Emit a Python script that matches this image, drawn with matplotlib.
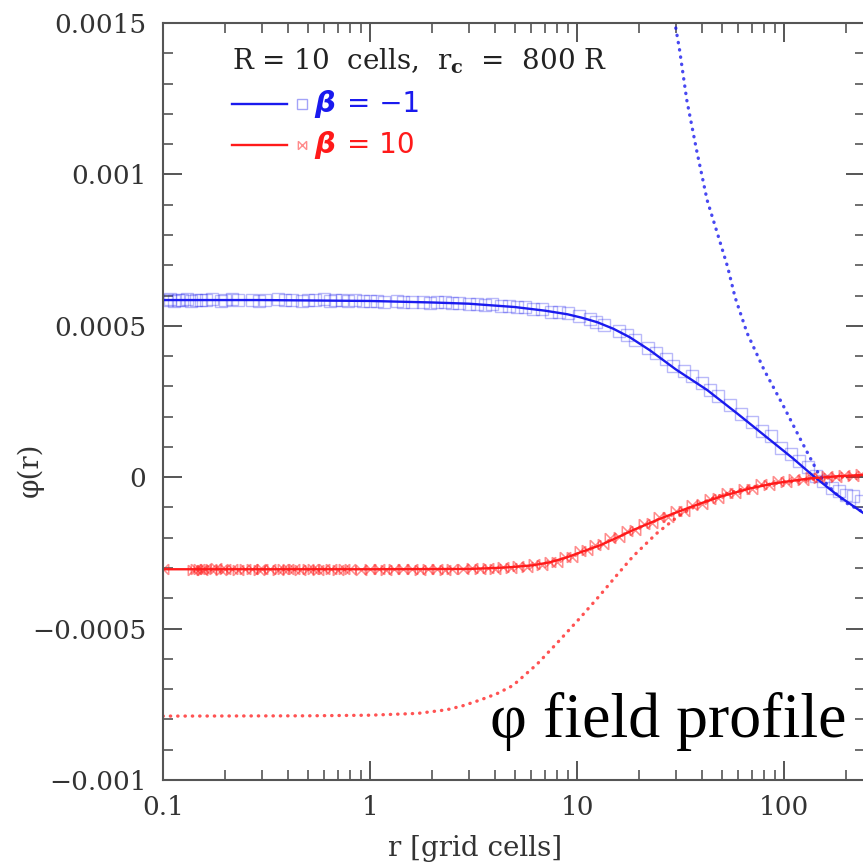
import matplotlib
matplotlib.use("Agg")
import matplotlib.pyplot as plt
import numpy as np
from matplotlib.path import Path
from matplotlib.ticker import FixedLocator, FuncFormatter, LogLocator, NullFormatter

# solid fits
r_blue_fit = [0.1, 0.3, 1, 2, 3, 5, 7, 9, 10.5, 12.5, 15, 18, 22.5, 30, 42.5, 60, 88.5, 110, 138, 180, 241, 250]
phi_blue_fit = [0.000585, 0.000585, 0.000582, 0.000577, 0.000573, 0.000562, 0.00055, 0.000538, 0.000527,
                0.000512, 0.00049, 0.000462, 0.000419, 0.000356, 0.000288, 0.000208, 0.000115, 0.000063,
                0.000005, -0.000058, -0.000118, -0.000124]
r_red_fit = [0.1, 1, 3, 4, 4.8, 6.1, 7.4, 8.9, 10.3, 12.9, 15, 18.6, 25, 30, 39.3, 50, 68.6, 90, 133, 180, 250]
phi_red_fit = [-0.000304, -0.000304, -0.000303, -0.000300, -0.000297, -0.000291, -0.000281, -0.000265,
               -0.000249, -0.000225, -0.000205, -0.000175, -0.000138, -0.000117, -0.000087, -0.000063,
               -0.000037, -0.000020, -0.000004, 0.000003, 0.000008]

# dotted approximations
r_blue_dot = [28, 29.7, 31.3, 33.9, 37.8, 42.5, 47.6, 53.4, 58, 66.3, 80, 100, 120, 138, 150, 175, 201, 230, 250]
phi_blue_dot = [0.00162, 0.0015, 0.00141, 0.001245, 0.00108, 0.000915, 0.000806, 0.000694, 0.000594, 0.000476,
                0.000355, 0.000231, 0.000125, 0.000046, 0.0, -0.00005, -0.000086, -0.000108, -0.00012]
r_red_dot = [0.1, 0.5, 1, 1.7, 2.35, 2.8, 3.4, 4.1, 4.9, 6.4, 8.0, 10.3, 12.9, 15.5, 18.6, 24.2, 31.3, 40, 50, 70,
             100, 150, 250]
phi_red_dot = [-0.000789, -0.000788, -0.000786, -0.00078, -0.000768, -0.000755, -0.000736, -0.000715, -0.000688,
               -0.000618, -0.000548, -0.000466, -0.00039, -0.000325, -0.000262, -0.000186, -0.000125, -0.000085,
               -0.000058, -0.000032, -0.000016, -0.000004, 0.000006]

# simulation points
r_blue_pts = [0.104, 0.108, 0.113, 0.118, 0.124, 0.13, 0.137, 0.145, 0.153, 0.162, 0.172, 0.19, 0.2, 0.215, 0.23,
              0.27, 0.29, 0.31, 0.36, 0.39, 0.42, 0.47, 0.5, 0.54, 0.6, 0.64, 0.68, 0.73, 0.78, 0.85, 0.92, 1.0,
              1.08, 1.17, 1.35, 1.45, 1.6, 1.8, 1.95, 2.1, 2.3, 2.5, 2.7, 3.0, 3.3, 3.6, 3.9, 4.3, 4.7, 5.1, 5.6,
              6.1, 6.8, 7.5, 8.2, 9.0, 10.2, 11.5, 12.3, 13.5, 16.0, 17.5, 19.0, 22, 24, 27, 29, 33, 36, 40, 44,
              48, 55, 62, 70, 78, 86, 97, 108, 118, 130, 142, 155, 170, 185, 200, 215, 235]
phi_blue_pts = [0.000585, 0.000587, 0.000583, 0.000586, 0.000584, 0.000587, 0.000583, 0.000585, 0.000586, 0.000584,
                0.000587, 0.000583, 0.000585, 0.000587, 0.000584, 0.000586, 0.000583, 0.000585, 0.000587, 0.000584,
                0.000585, 0.000583, 0.000586, 0.000585, 0.000587, 0.000583, 0.000585, 0.000584, 0.000582, 0.000584,
                0.000581, 0.000583, 0.000582, 0.000579, 0.000581, 0.00058, 0.000578, 0.000579, 0.000576, 0.000577,
                0.000578, 0.000574, 0.000575, 0.000571, 0.000573, 0.000569, 0.000571, 0.000566, 0.000567, 0.000561,
                0.000562, 0.000555, 0.000557, 0.000547, 0.000546, 0.000541, 0.000533, 0.000524, 0.000514, 0.000503,
                0.000482, 0.000469, 0.000452, 0.000428, 0.00041, 0.000389, 0.000367, 0.00035, 0.000334, 0.000312,
                0.000288, 0.000268, 0.000238, 0.000208, 0.000182, 0.000152, 0.000136, 0.000098, 0.000078, 0.000052,
                0.000034, 0.000004, -0.000012, -0.000035, -0.000045, -0.000058, -0.000062, -0.000078]
r_red_pts = [0.1, 0.14, 0.145, 0.15, 0.155, 0.16, 0.17, 0.18, 0.19, 0.2, 0.215, 0.23, 0.25, 0.27, 0.29, 0.3, 0.33,
             0.36, 0.38, 0.4, 0.43, 0.46, 0.5, 0.53, 0.56, 0.6, 0.65, 0.7, 0.75, 0.8, 0.9, 1.0, 1.1, 1.2, 1.3, 1.45,
             1.6, 1.75, 1.9, 2.1, 2.3, 2.5, 2.8, 3.1, 3.4, 3.7, 4.0, 4.4, 4.8, 5.2, 5.7, 6.2, 6.8, 7.4, 8.0, 8.7,
             9.5, 10.3, 11.2, 12.2, 13.3, 14.5, 16, 17.5, 19, 21, 23, 25, 27.5, 30, 33, 36, 40, 44, 48, 53, 58, 64,
             70, 77, 85, 93, 102, 112, 123, 135, 148, 162, 178, 195, 215, 235]
phi_red_pts = [-0.000304, -0.000305, -0.000302, -0.000304, -0.000306, -0.000303, -0.000304, -0.000301, -0.000305,
               -0.000304, -0.000302, -0.000306, -0.000304, -0.000303, -0.000305, -0.000302, -0.000304, -0.000306,
               -0.000303, -0.000304, -0.000302, -0.000305, -0.000304, -0.000303, -0.000306, -0.000304, -0.000302,
               -0.000305, -0.000303, -0.000304, -0.000306, -0.000302, -0.000304, -0.000305, -0.000303, -0.000304,
               -0.000302, -0.000305, -0.000303, -0.000304, -0.000306, -0.000302, -0.000304, -0.000301, -0.000303,
               -0.000300, -0.000302, -0.000298, -0.000299, -0.000294, -0.000296, -0.000287, -0.000291, -0.000279,
               -0.000280, -0.000262, -0.000264, -0.000243, -0.000242, -0.000224, -0.000222, -0.000202, -0.000199,
               -0.000178, -0.000176, -0.000155, -0.000152, -0.000133, -0.000131, -0.000113, -0.000111, -0.000092,
               -0.000089, -0.000071, -0.00007, -0.000053, -0.000052, -0.000038, -0.000038, -0.000024, -0.000025,
               -0.000013, -0.000015, -0.000005, -0.000008, 0.000001, -0.000003, 0.000005, 0.000001, 0.000007,
               0.000004, 0.000009]

bowtie = Path([(-1, -1), (1, 1), (-1, 1), (1, -1), (-1, -1), (-1, 1), (1, -1), (1, 1)],
              [Path.MOVETO, Path.LINETO, Path.MOVETO, Path.LINETO, Path.MOVETO, Path.LINETO, Path.MOVETO, Path.LINETO])

BLUE = "#1a1aee"
RED = "#ff1a1a"
GRAY = "#555555"
DOTS = (0, (0.1, 2.1))

plt.rcParams["font.family"] = "DejaVu Serif"
plt.rcParams["mathtext.fontset"] = "dejavuserif"

fig = plt.figure(figsize=(8.63, 8.64), dpi=100)
ax = fig.add_axes([163 / 863, 1 - 780 / 864, 702 / 863, 757 / 864])

ax.plot(r_blue_pts, phi_blue_pts, ls="none", marker="s", ms=8, mfc="none", mec=BLUE, mew=1.0, alpha=0.3)
ax.plot(r_red_pts, phi_red_pts, ls="none", marker=bowtie, ms=7.5, mfc="none", mec=RED, mew=1.1, alpha=0.5)
ax.plot(r_blue_fit, phi_blue_fit, color=BLUE, lw=1.7)
ax.plot(r_red_fit, phi_red_fit, color=RED, lw=1.7)
ax.plot(r_blue_dot, phi_blue_dot, color=BLUE, lw=2.4, ls=DOTS, dash_capstyle="round", alpha=0.8)
ax.plot(r_red_dot, phi_red_dot, color=RED, lw=2.4, ls=DOTS, dash_capstyle="round", alpha=0.75)

ax.set_xscale("log")
ax.set_xlim(0.1, 246)
ax.set_ylim(-0.001, 0.0015)

ax.yaxis.set_major_locator(FixedLocator([-0.001, -0.0005, 0, 0.0005, 0.001, 0.0015]))
ax.yaxis.set_minor_locator(FixedLocator(np.arange(-0.001, 0.00151, 0.0001)))
ax.yaxis.set_major_formatter(FuncFormatter(lambda v, p: ("%g" % v).replace("-", "\u2212")))
ax.xaxis.set_major_locator(FixedLocator([0.1, 1, 10, 100]))
ax.xaxis.set_minor_locator(LogLocator(base=10, subs=np.arange(2, 10)))
ax.xaxis.set_minor_formatter(NullFormatter())
ax.xaxis.set_major_formatter(FuncFormatter(lambda v, p: "%g" % v))

ax.tick_params(which="both", direction="in", top=True, right=True, colors=GRAY, labelcolor="#333333",
               labelsize=19)
ax.tick_params(which="major", length=14, width=1.4)
ax.tick_params(which="minor", length=7, width=1.2)
ax.tick_params(axis="y", pad=12)
ax.tick_params(axis="x", pad=11)
for s in ax.spines.values():
    s.set_color(GRAY)
    s.set_linewidth(1.5)

ax.set_xlabel("r [grid cells]", fontsize=20, color="#333333")
ax.xaxis.set_label_coords(0.444, -0.072)
ax.set_ylabel("\u03c6(r)", fontsize=20, color="#333333")
ax.yaxis.set_label_coords(-0.17, 0.41)

# key
ax.text(0.099, 0.95, "R = 10  cells,  r$_{\\bf c}$  =  800 R", transform=ax.transAxes, fontsize=20,
        color="#222222", va="center")
ax.plot([0.098, 0.176], [0.893, 0.893], transform=ax.transAxes, color=BLUE, lw=1.7)
ax.plot([0.198], [0.893], transform=ax.transAxes, marker="s", ms=7, mfc="none", mec=BLUE, alpha=0.4)
ax.text(0.215, 0.893, "\u03b2", transform=ax.transAxes, fontsize=21, color=BLUE, va="center",
        fontweight="bold", fontstyle="italic", family="DejaVu Sans")
ax.text(0.262, 0.893, "= \u22121", transform=ax.transAxes, fontsize=20, color=BLUE, va="center",
        family="DejaVu Sans")
ax.plot([0.098, 0.176], [0.839, 0.839], transform=ax.transAxes, color=RED, lw=1.7)
ax.plot([0.198], [0.839], transform=ax.transAxes, marker=bowtie, ms=6, mfc="none", mec=RED, alpha=0.5)
ax.text(0.215, 0.839, "\u03b2", transform=ax.transAxes, fontsize=21, color=RED, va="center",
        fontweight="bold", fontstyle="italic", family="DejaVu Sans")
ax.text(0.262, 0.839, "= 10", transform=ax.transAxes, fontsize=20, color=RED, va="center",
        family="DejaVu Sans")

fig.text(490 / 863, 1 - 737 / 864, "\u03c6 field profile", fontsize=46, family="Liberation Serif",
         color="black", ha="left", va="baseline")

fig.savefig("out.png", dpi=100)
